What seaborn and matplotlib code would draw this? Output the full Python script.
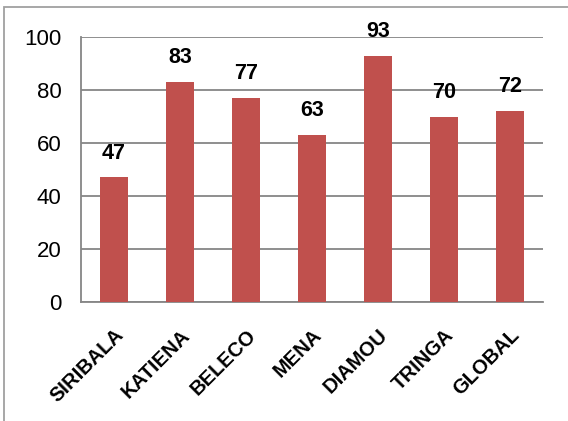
import matplotlib
matplotlib.use("Agg")
import matplotlib.pyplot as plt
import seaborn as sns
import pandas as pd
from matplotlib.patches import Rectangle

categories = ["SIRIBALA", "KATIENA", "BELECO", "MENA", "DIAMOU", "TRINGA", "GLOBAL"]
values = [47, 83, 77, 63, 93, 70, 72]
yticks = [0, 20, 40, 60, 80, 100]

df = pd.DataFrame({"cat": categories, "val": values})

sns.set_style("white")
plt.rcParams["font.family"] = ["Liberation Sans", "DejaVu Sans"]
plt.rcParams["text.color"] = "black"
plt.rcParams["xtick.color"] = "black"
plt.rcParams["ytick.color"] = "black"

fig = plt.figure(figsize=(5.68, 4.21), dpi=100)
ax = fig.add_axes([81/568, 1-302/421, 462/568, 265/421])

sns.barplot(data=df, x="cat", y="val", color="#C0504D", width=0.41,
            saturation=1, ax=ax, zorder=3, linewidth=0)

ax.set_ylim(0, 100)
ax.set_yticks(yticks)
ax.set_xlim(-0.5, len(categories) - 0.5)
ax.yaxis.grid(True, color="#868686", linewidth=1.3, zorder=0)
ax.set_axisbelow(True)
ax.set_xlabel("")
ax.set_ylabel("")
for s in ["top", "right"]:
    ax.spines[s].set_visible(False)
for s in ["left", "bottom"]:
    ax.spines[s].set_color("#868686")
    ax.spines[s].set_linewidth(1.3)
ax.tick_params(axis="both", length=0, labelcolor="black")
ax.tick_params(axis="y", pad=14, labelsize=16)

ax.set_xticks(range(len(categories)))
ax.set_xticklabels(categories, rotation=45, ha="right", rotation_mode="anchor",
                   fontsize=14.5, fontweight="bold", color="black")
ax.tick_params(axis="x", pad=17)

for c in ax.containers:
    ax.bar_label(c, labels=[str(v) for v in values], padding=10,
                 fontsize=15.5, fontweight="bold", color="black")

fig.patches.append(Rectangle((4/568, -0.1), 1.2, 1 - 7/421 + 0.1,
                             transform=fig.transFigure, fill=False,
                             edgecolor="#A0A0A0", linewidth=1.3))

fig.savefig("out.png", dpi=100)
